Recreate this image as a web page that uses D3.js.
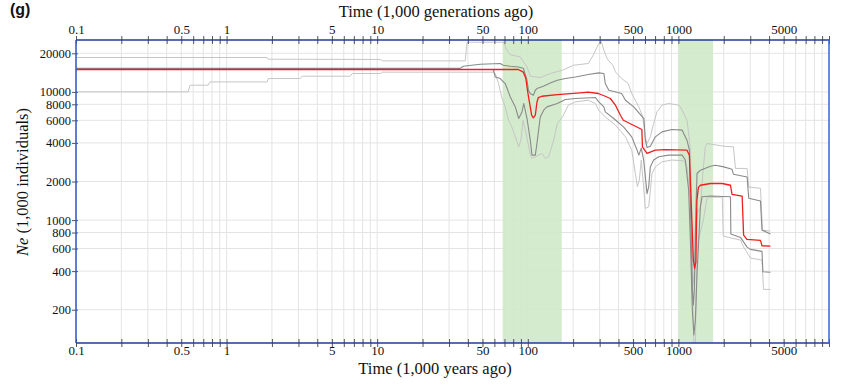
<!DOCTYPE html>
<html><head><meta charset="utf-8">
<script src="https://cdn.jsdelivr.net/npm/d3@7"></script>
<style>body{margin:0;background:#fff}svg{display:block}</style>
</head><body>
<svg id="c" width="841" height="386"></svg>
<script>
// ---- data (time in 1,000 years/generations ago, Ne in 1,000 individuals) ----
const xLabeled = [0.1, 0.5, 1, 5, 10, 50, 100, 500, 1000, 5000];
const yTicks = [200, 400, 600, 800, 1000, 2000, 4000, 6000, 8000, 10000, 20000];
const bands = [[68, 168], [1000, 1700]];

const median = [[0.1,14950],[86.5,14950],[93.4,14250],[97,12800],[99.5,10300],[101.5,8900],[103.9,7600],[106,6580],[108.8,6270],[112.2,6580],[115,8300],[117.5,9040],[124,9250],[157,9520],[223,9820],[252,9950],[294,9720],[327,9250],[353,8880],[382,7880],[412,6580],[431,6010],[518,5400],[572,5090],[577,3730],[619,3310],[703,3510],[820,3550],[1140,3510],[1183,3210],[1219,1270],[1257,488],[1282,420],[1306,470],[1327,1430],[1358,1800],[1400,1870],[1632,1930],[1955,1930],[2217,1870],[2270,1590],[2650,1540],[2710,764],[2850,708],[3508,694],[3590,631],[4087,627]];

const upperInner = [[0.1,15250],[35.6,15250],[37.3,15850],[48.3,16440],[65.6,16650],[68.7,16140],[76.5,15850],[86.5,15660],[93.4,15300],[98.8,12330],[101,10300],[103.9,9720],[108.8,9420],[112.2,10300],[115,10610],[126.8,11070],[141,11750],[157,12330],[177.6,12710],[207,13080],[252,13660],[296,14070],[320,13910],[327,11620],[345,10300],[420,9720],[445,8610],[505,7640],[590,6200],[603,4200],[619,3690],[651,3770],[703,4460],[778,4880],[905,5090],[1060,5030],[1140,4200],[1183,3510],[1210,1000],[1238,285],[1257,218],[1276,285],[1306,1200],[1330,2310],[1400,2450],[1632,2630],[1762,2680],[2000,2600],[2270,2490],[2320,2280],[2860,2170],[2930,1480],[3508,1410],[3590,836],[4087,778]];

const lowerInner = [[0.1,14950],[59,14950],[60.8,13080],[65.6,12710],[70.8,11620],[76.5,9140],[82.6,7640],[87,6200],[91.5,6980],[94,8120],[98.8,6200],[103.9,4200],[106.6,3210],[112.2,3210],[115,3960],[118,5030],[121,6380],[127.5,7200],[134,7640],[157,8120],[177.6,8730],[207,8880],[281,9040],[296,8360],[320,7640],[327,6980],[372,6200],[432,5330],[490,4460],[532,3510],[546,3210],[567,3640],[588,2940],[619,1610],[635,1820],[651,2600],[685,2940],[740,3120],[862,3210],[1060,3210],[1112,2940],[1170,1710],[1201,698],[1238,199],[1267,127],[1296,165],[1330,386],[1400,1270],[1435,1520],[1632,1540],[2217,1520],[2230,778],[2583,733],[2860,616],[3010,591],[3590,570],[3640,396],[4087,392]];

const upperOuter = [[0.1,18550],[1.86,18550],[1.89,17990],[10.5,17900],[10.8,17460],[38.4,17460],[39.5,24400],[69,24400],[72.7,21130],[76.5,19500],[89.2,18750],[98.8,15660],[103.9,13250],[121,12940],[141,13910],[170,14770],[201,16140],[252,16650],[272,19330],[296,23850],[307,24850],[320,21130],[338,17990],[367,16140],[382,14320],[420,12710],[464,11620],[490,9720],[546,7640],[580,6380],[603,4460],[619,3960],[651,4460],[685,5670],[720,6980],[778,7880],[862,8120],[1010,7880],[1060,7200],[1140,6010],[1170,4740],[1201,3510],[1219,1430],[1248,410],[1267,321],[1286,410],[1296,887],[1330,1130],[1400,1270],[1465,2600],[1510,3730],[1550,3960],[2000,3770],[2320,3730],[2392,2530],[2860,2530],[2930,1810],[3508,1770],[3617,836],[4087,821]];

const lowerOuter = [[0.1,10000],[0.555,10000],[0.572,11280],[0.753,11280],[0.776,11960],[1.86,11960],[1.89,12710],[3.08,12710],[3.18,13250],[6.62,13250],[6.83,13910],[10.5,13910],[10.8,14250],[59,14250],[60.8,13910],[64,11620],[67,9140],[70.8,7640],[74.5,6010],[78.3,5330],[82.6,4460],[87,3730],[90,4200],[93,6010],[96.3,5030],[101.5,3730],[103.9,3210],[106.6,3030],[112.2,3120],[124,3310],[130.7,3030],[137.5,3120],[148.5,4200],[157,5670],[170,6380],[186,7880],[207,8360],[252,8610],[281,8120],[296,7200],[327,6380],[382,5500],[445,4460],[490,3510],[518,2310],[534,1820],[550,2050],[567,2940],[588,1820],[603,1230],[635,1270],[668,2310],[703,2600],[778,2850],[905,2940],[1090,2900],[1140,2600],[1201,1430],[1238,340],[1267,100],[1296,105],[1327,488],[1358,698],[1465,1000],[1550,1510],[1955,1510],[1985,750],[2583,698],[2705,619],[3010,506],[3590,488],[3673,288],[4087,288]];

// ---- layout ----
const L = 76, R = 829, T = 40, B = 343;
const serif = '"Liberation Serif","Times New Roman",serif';
const svg = d3.select('#c');
const x = d3.scaleLog().domain([0.1, 10000]).range([L, R]);
const y = d3.scaleLog().domain([110, 25400]).range([B, T]);
const xt = x.ticks();

// grid
const g = svg.append('g');
g.selectAll('line.vx').data(xt).join('line')
  .attr('x1', d => x(d)).attr('x2', d => x(d)).attr('y1', T).attr('y2', B)
  .attr('stroke', '#e4e4e4').attr('stroke-width', 1);
g.selectAll('line.hy').data(yTicks).join('line')
  .attr('x1', L).attr('x2', R).attr('y1', d => y(d)).attr('y2', d => y(d))
  .attr('stroke', '#e4e4e4').attr('stroke-width', 1);

// bands
svg.append('g').selectAll('rect').data(bands).join('rect')
  .attr('x', d => x(d[0])).attr('width', d => x(d[1]) - x(d[0]))
  .attr('y', T).attr('height', B - T)
  .attr('fill', '#cfe9c9').attr('opacity', 0.9);

// clip
svg.append('clipPath').attr('id', 'clip').append('rect')
  .attr('x', L).attr('y', T).attr('width', R - L).attr('height', B - T);

const line = d3.line().x(d => x(d[0])).y(d => y(d[1]));
const series = [
  {d: upperOuter, c: '#c6c6c6', w: 1},
  {d: lowerOuter, c: '#c6c6c6', w: 1},
  {d: upperInner, c: '#8a8a8a', w: 1.1},
  {d: lowerInner, c: '#8a8a8a', w: 1.1},
  {d: median, c: '#f21d1d', w: 1.3}
];
svg.append('g').attr('clip-path', 'url(#clip)')
  .selectAll('path').data(series).join('path')
  .attr('d', s => line(s.d)).attr('fill', 'none')
  .attr('stroke', s => s.c).attr('stroke-width', s => s.w)
  .attr('stroke-linejoin', 'round');

// axes
const fmt = d => xLabeled.includes(d) ? String(d) : '';
const bx = svg.append('g').attr('transform', `translate(0,${B})`)
  .call(d3.axisBottom(x).tickValues(xt).tickFormat(fmt).tickSize(4));
bx.selectAll('line').attr('y1', -4).attr('stroke', '#555');
bx.selectAll('text').attr('y', 12).attr('dy', 0);
const tx = svg.append('g').attr('transform', `translate(0,${T})`)
  .call(d3.axisTop(x).tickValues(xt).tickFormat(fmt).tickSize(4));
tx.selectAll('line').attr('y1', 4).attr('stroke', '#555');
tx.selectAll('text').attr('y', -6).attr('dy', 0);
const ly = svg.append('g').attr('transform', `translate(${L},0)`)
  .call(d3.axisLeft(y).tickValues(yTicks).tickFormat(d => String(d)).tickSize(4));
ly.selectAll('line').attr('x1', 2).attr('stroke', '#555');
ly.selectAll('text').attr('x', -5);
[bx, tx, ly].forEach(a => {
  a.select('.domain').remove();
  a.selectAll('text').filter(function() { return this.textContent === ''; }).remove();
  a.selectAll('text').attr('font-family', serif).attr('font-size', 13).attr('fill', '#111');
});
ly.selectAll('text').attr('font-size', 12.5);

// frame
svg.append('line').attr('x1', L).attr('x2', R).attr('y1', T).attr('y2', T).attr('stroke', '#1e3c96').attr('stroke-width', 1.5);
svg.append('line').attr('x1', L).attr('x2', R).attr('y1', B).attr('y2', B).attr('stroke', '#1e3c96').attr('stroke-width', 1.5);
svg.append('line').attr('x1', L).attr('x2', L).attr('y1', T).attr('y2', B).attr('stroke', '#2f55c8').attr('stroke-width', 1.5);
svg.append('line').attr('x1', R).attr('x2', R).attr('y1', T).attr('y2', B).attr('stroke', '#3a66e0').attr('stroke-width', 1.5);

// titles
svg.append('text').attr('x', 436).attr('y', 17).attr('text-anchor', 'middle')
  .attr('font-family', serif).attr('font-size', 16.5).attr('fill', '#111')
  .text('Time (1,000 generations ago)');
svg.append('text').attr('x', 435).attr('y', 374).attr('text-anchor', 'middle')
  .attr('font-family', serif).attr('font-size', 16.5).attr('fill', '#111')
  .text('Time (1,000 years ago)');
const yt = svg.append('text').attr('transform', 'translate(28,182) rotate(-90)')
  .attr('text-anchor', 'middle').attr('font-family', serif).attr('font-size', 16.5).attr('fill', '#111');
yt.append('tspan').attr('font-style', 'italic').text('Ne');
yt.append('tspan').text(' (1,000 individuals)');
svg.append('text').attr('x', 10).attr('y', 15)
  .attr('font-family', '"Liberation Sans",Arial,sans-serif').attr('font-weight', 'bold')
  .attr('font-size', 16).attr('fill', '#111').text('(g)');
</script>
</body></html>
